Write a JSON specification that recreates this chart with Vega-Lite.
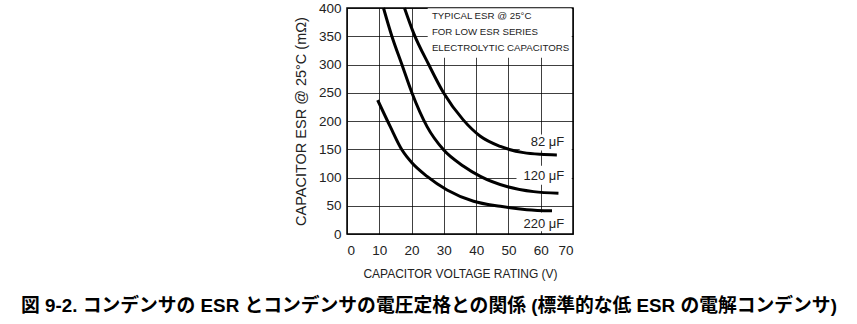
{
  "$schema": "https://vega.github.io/schema/vega-lite/v6.json",
  "autosize": {"type": "none"},
  "width": 226,
  "height": 226,
  "padding": {"left": 347, "top": 8, "right": 284, "bottom": 90},
  "background": "white",
  "config": {
    "view": {"stroke": "black", "strokeWidth": 1.5},
    "font": "Liberation Sans, sans-serif",
    "axis": {
      "grid": true,
      "gridColor": "black",
      "gridOpacity": 0.75,
      "gridWidth": 1,
      "domain": false,
      "ticks": false,
      "labelOverlap": false,
      "labelFont": "Liberation Sans, sans-serif",
      "titleFont": "Liberation Sans, sans-serif",
      "labelFontSize": 13.5,
      "titleFontWeight": "normal",
      "labelColor": "#222",
      "titleColor": "#222"
    }
  },
  "title": {
    "text": "図 9-2. コンデンサの ESR とコンデンサの電圧定格との関係 (標準的な低 ESR の電解コンデンサ)",
    "orient": "bottom",
    "anchor": "middle",
    "font": "Liberation Sans, Noto Sans CJK JP",
    "fontSize": 18.8,
    "fontWeight": "bold",
    "color": "black",
    "dx": -31,
    "offset": 17
  },
  "datasets": {
    "curves": [
      {"cap": "82", "v": 17.8, "esr": 400},
      {"cap": "82", "v": 20.6, "esr": 356},
      {"cap": "82", "v": 25.3, "esr": 300},
      {"cap": "82", "v": 29.9, "esr": 250},
      {"cap": "82", "v": 36.0, "esr": 202},
      {"cap": "82", "v": 41.3, "esr": 173},
      {"cap": "82", "v": 47.5, "esr": 155},
      {"cap": "82", "v": 54.7, "esr": 144},
      {"cap": "82", "v": 60.0, "esr": 141},
      {"cap": "82", "v": 65.0, "esr": 140},
      {"cap": "120", "v": 11.3, "esr": 400},
      {"cap": "120", "v": 13.9, "esr": 350},
      {"cap": "120", "v": 17.0, "esr": 300},
      {"cap": "120", "v": 20.1, "esr": 250},
      {"cap": "120", "v": 24.8, "esr": 190},
      {"cap": "120", "v": 29.9, "esr": 149},
      {"cap": "120", "v": 36.1, "esr": 120},
      {"cap": "120", "v": 41.3, "esr": 102},
      {"cap": "120", "v": 49.5, "esr": 84},
      {"cap": "120", "v": 57.8, "esr": 75},
      {"cap": "120", "v": 65.5, "esr": 72},
      {"cap": "220", "v": 9.5, "esr": 237},
      {"cap": "220", "v": 13.4, "esr": 190},
      {"cap": "220", "v": 17.0, "esr": 149},
      {"cap": "220", "v": 20.1, "esr": 126},
      {"cap": "220", "v": 24.8, "esr": 102},
      {"cap": "220", "v": 31.0, "esr": 78},
      {"cap": "220", "v": 39.2, "esr": 58},
      {"cap": "220", "v": 47.5, "esr": 49},
      {"cap": "220", "v": 55.7, "esr": 43},
      {"cap": "220", "v": 63.5, "esr": 41}
    ],
    "masks": [
      {"v": 25, "v2": 69.6, "esr": 312, "esr2": 399.5},
      {"v": 53.5, "v2": 69.6, "esr": 148, "esr2": 176},
      {"v": 52.5, "v2": 69.6, "esr": 87, "esr2": 121},
      {"v": 53, "v2": 69.6, "esr": 5, "esr2": 38}
    ],
    "labels": [
      {"text": "82 μF", "v": 67.3, "esr": 162},
      {"text": "120 μF", "v": 67.3, "esr": 102},
      {"text": "220 μF", "v": 67.3, "esr": 17.7}
    ],
    "note": [
      {"text": "TYPICAL ESR @ 25°C", "v": 26.3, "esr": 385},
      {"text": "FOR LOW ESR SERIES", "v": 26.3, "esr": 357},
      {"text": "ELECTROLYTIC CAPACITORS", "v": 26.3, "esr": 330}
    ]
  },
  "encoding": {
    "x": {"field": "v", "type": "quantitative", "scale": {"domain": [0, 70], "nice": false},
          "axis": {"values": [0, 10, 20, 30, 40, 50, 60, 70], "title": "CAPACITOR VOLTAGE RATING (V)", "titleFontSize": 12, "labelPadding": 9, "titlePadding": 12}},
    "y": {"field": "esr", "type": "quantitative", "scale": {"domain": [0, 400], "nice": false},
          "axis": {"values": [0, 50, 100, 150, 200, 250, 300, 350, 400], "title": "CAPACITOR ESR @ 25°C (mΩ)", "titleFontSize": 14.5, "labelPadding": 6, "titlePadding": 10}}
  },
  "layer": [
    {
      "data": {"name": "masks"},
      "mark": {"type": "rect", "fill": "white", "stroke": null},
      "encoding": {
        "x2": {"field": "v2"},
        "y2": {"field": "esr2"}
      }
    },
    {
      "data": {"name": "curves"},
      "mark": {"type": "line", "color": "black", "strokeWidth": 3, "interpolate": "monotone"},
      "encoding": {
        "detail": {"field": "cap"}
      }
    },
    {
      "data": {"name": "labels"},
      "mark": {"type": "text", "align": "right", "baseline": "middle", "fontSize": 13, "color": "#222", "font": "Liberation Sans, sans-serif"},
      "encoding": {
        "text": {"field": "text"}
      }
    },
    {
      "data": {"name": "note"},
      "mark": {"type": "text", "align": "left", "baseline": "middle", "fontSize": 9.7, "color": "#222", "font": "Liberation Sans, sans-serif"},
      "encoding": {
        "text": {"field": "text"}
      }
    }
  ]
}
